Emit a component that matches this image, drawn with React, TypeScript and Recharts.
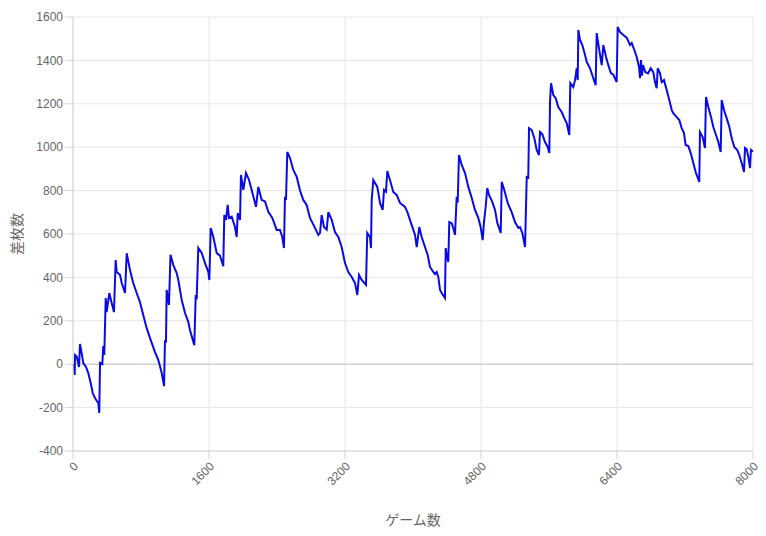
import React from 'react';
import { LineChart, Line, XAxis, YAxis, CartesianGrid, ReferenceLine } from 'recharts';

const games: number[] = [
  0, 12, 20, 24, 44, 71, 82, 102, 121, 153, 180, 208, 232, 259, 286, 298, 309, 318, 345, 356, 368, 385, 396, 427, 455, 482,
  502, 514, 553, 573, 612, 632, 671, 709, 749, 788, 827, 867, 906, 965, 1004, 1044, 1071, 1082, 1094, 1102, 1129, 1147,
  1180, 1220, 1239, 1279, 1318, 1356, 1376, 1427, 1444, 1455, 1474, 1514, 1553, 1592, 1604, 1620, 1651, 1691, 1729, 1768,
  1780, 1800, 1820, 1835, 1867, 1906, 1926, 1938, 1965, 1976, 2004, 2035, 2071, 2102, 2153, 2180, 2220, 2259, 2298, 2345,
  2396, 2435, 2462, 2482, 2494, 2506, 2521, 2553, 2592, 2632, 2671, 2709, 2749, 2788, 2847, 2886, 2906, 2926, 2953, 2985,
  3004, 3044, 3082, 3121, 3161, 3200, 3239, 3279, 3318, 3345, 3365, 3396, 3447, 3462, 3494, 3506, 3514, 3533, 3580, 3612,
  3643, 3659, 3682, 3698, 3729, 3768, 3808, 3847, 3906, 3933, 3985, 4024, 4044, 4074, 4102, 4141, 4173, 4200, 4239, 4259,
  4279, 4298, 4318, 4338, 4376, 4385, 4396, 4415, 4427, 4455, 4474, 4494, 4514, 4526, 4541, 4573, 4612, 4651, 4691, 4729,
  4768, 4796, 4820, 4835, 4855, 4874, 4894, 4933, 4965, 4992, 5032, 5044, 5074, 5114, 5161, 5200, 5239, 5259, 5286, 5318,
  5338, 5356, 5365, 5396, 5427, 5455, 5482, 5494, 5521, 5553, 5585, 5604, 5612, 5624, 5651, 5679, 5709, 5749, 5780, 5808,
  5839, 5851, 5886, 5906, 5926, 5938, 5945, 5965, 5992, 6024, 6044, 6082, 6121, 6149, 6161, 6188, 6220, 6239, 6271, 6298,
  6329, 6356, 6385, 6396, 6408, 6435, 6474, 6514, 6553, 6573, 6604, 6632, 6659, 6671, 6682, 6694, 6706, 6733, 6765, 6796,
  6827, 6847, 6867, 6879, 6906, 6926, 6953, 6985, 7015, 7044, 7062, 7102, 7133, 7161, 7188, 7208, 7239, 7267, 7298, 7329,
  7368, 7376, 7408, 7435, 7447, 7474, 7506, 7533, 7565, 7592, 7620, 7632, 7659, 7690, 7722, 7749, 7780, 7815, 7839, 7867,
  7894, 7906, 7926, 7945, 7965, 7976, 8000,
];

const diffs: number[] = [
  0, -4, -50, 42, 35, -13, 93, 51, 5, -13, -41, -87, -133, -156, -173, -178, -225, 6, 0, 84, 43, 305, 240, 328, 282, 240,
  480, 425, 412, 374, 328, 511, 433, 374, 328, 286, 226, 166, 120, 56, 19, -41, -101, 110, 100, 342, 273, 504,
  457, 420, 388, 296, 236, 195, 158, 88, 319, 300, 536, 513, 466, 425, 388, 627, 586, 512, 500, 452,
  687, 665, 734, 674, 680, 632, 586, 697, 665, 872, 803, 881, 849, 803, 725, 817, 757, 750, 702, 674,
  619, 619, 586, 535, 771, 757, 978, 950, 895, 863, 800, 757, 734, 674, 628, 596, 605, 687, 632, 620,
  701, 665, 609, 586, 540, 466, 425, 402, 374, 319, 411, 388, 365, 605, 586, 535, 757, 849, 817, 743,
  711, 803, 795, 890, 849, 794, 780, 743, 725, 702, 641, 596, 540, 632, 586, 540, 503, 448, 425, 415,
  425, 402, 342, 328, 305, 535, 505, 471, 655, 650, 628, 596, 771, 745, 964, 918, 881, 817, 766, 711,
  674, 632, 572, 655, 725, 812, 780, 748, 711, 651, 605, 840, 803, 743, 701, 655, 628, 632, 605, 540,
  863, 860, 1088, 1079, 1042, 987, 964, 1070, 1060, 1024, 1001, 973, 1208, 1295, 1240, 1226, 1185, 1162, 1134, 1111,
  1056, 1295, 1277, 1309, 1364, 1309, 1540, 1494, 1471, 1425, 1393, 1364, 1318, 1286, 1526, 1457, 1378, 1471, 1416, 1378,
  1341, 1335, 1309, 1300, 1554, 1531, 1517, 1505, 1471, 1480, 1448, 1416, 1370, 1318, 1402, 1330, 1378, 1346, 1340, 1364,
  1346, 1300, 1272, 1364, 1341, 1300, 1309, 1263, 1217, 1171, 1157, 1139, 1125, 1088, 1065, 1010, 1005, 973, 927, 881,
  840, 1070, 1047, 996, 1231, 1185, 1139, 1093, 1056, 1024, 978, 1217, 1171, 1134, 1093, 1042, 1001, 987, 964, 927,
  886, 996, 990, 955, 904, 987, 980,
];

const xTicks: number[] = [0, 1600, 3200, 4800, 6400, 8000];
const yTicks: number[] = [-400, -200, 0, 200, 400, 600, 800, 1000, 1200, 1400, 1600];
const xTitle = 'ゲーム数';
const yTitle = '差枚数';

const data = games.map((g, i) => ({ game: g, diff: diffs[i] }));

const FONT = '"Liberation Sans", Arial, Helvetica, sans-serif';

const YTitle = (props: any) => {
  const vb = props.viewBox || {};
  const cx = 7.5;
  const cy = 9 + 434 / 2;
  return (
    <text
      x={cx}
      y={cy}
      transform={`rotate(-90, ${cx}, ${cy})`}
      textAnchor="middle"
      dominantBaseline="central"
      fill="#666"
      fontSize={14}
      fontFamily={'"Noto Sans CJK JP", sans-serif'}
    >
      {yTitle}
    </text>
  );
};

const XTitle = (props: any) => {
  const cx = 65 + 680 / 2;
  const cy = 511;
  return (
    <text
      x={cx}
      y={cy}
      textAnchor="middle"
      dominantBaseline="central"
      fill="#666"
      fontSize={14}
      fontFamily={'"Noto Sans CJK JP", sans-serif'}
    >
      {xTitle}
    </text>
  );
};

export default function App() {
  return (
    <div style={{ width: 758, height: 528 }}>
      <LineChart
        width={758}
        height={528}
        data={data}
        margin={{ top: 9, right: 13, bottom: 0, left: 0 }}
      >
        <CartesianGrid stroke="#e6e6e6" strokeWidth={1} />
        <XAxis
          dataKey="game"
          type="number"
          domain={[0, 8000]}
          ticks={xTicks}
          interval={0}
          height={85}
          stroke="#d4d4d4"
          tickSize={8}
          tickMargin={2}
          tick={{ fill: '#666', fontSize: 12, fontFamily: FONT, angle: -45, textAnchor: 'end' }}
          label={<XTitle />}
        />
        <YAxis
          type="number"
          domain={[-400, 1600]}
          ticks={yTicks}
          interval={0}
          width={65}
          stroke="#d4d4d4"
          tickSize={8}
          tickMargin={2}
          tick={{ fill: '#666', fontSize: 12, fontFamily: FONT }}
          label={<YTitle />}
        />
        <ReferenceLine y={0} stroke="#c4c4c4" strokeWidth={1} />
        <Line
          type="linear"
          dataKey="diff"
          stroke="#0a0ae6"
          strokeWidth={2}
          dot={false}
          isAnimationActive={false}
        />
      </LineChart>
    </div>
  );
}
